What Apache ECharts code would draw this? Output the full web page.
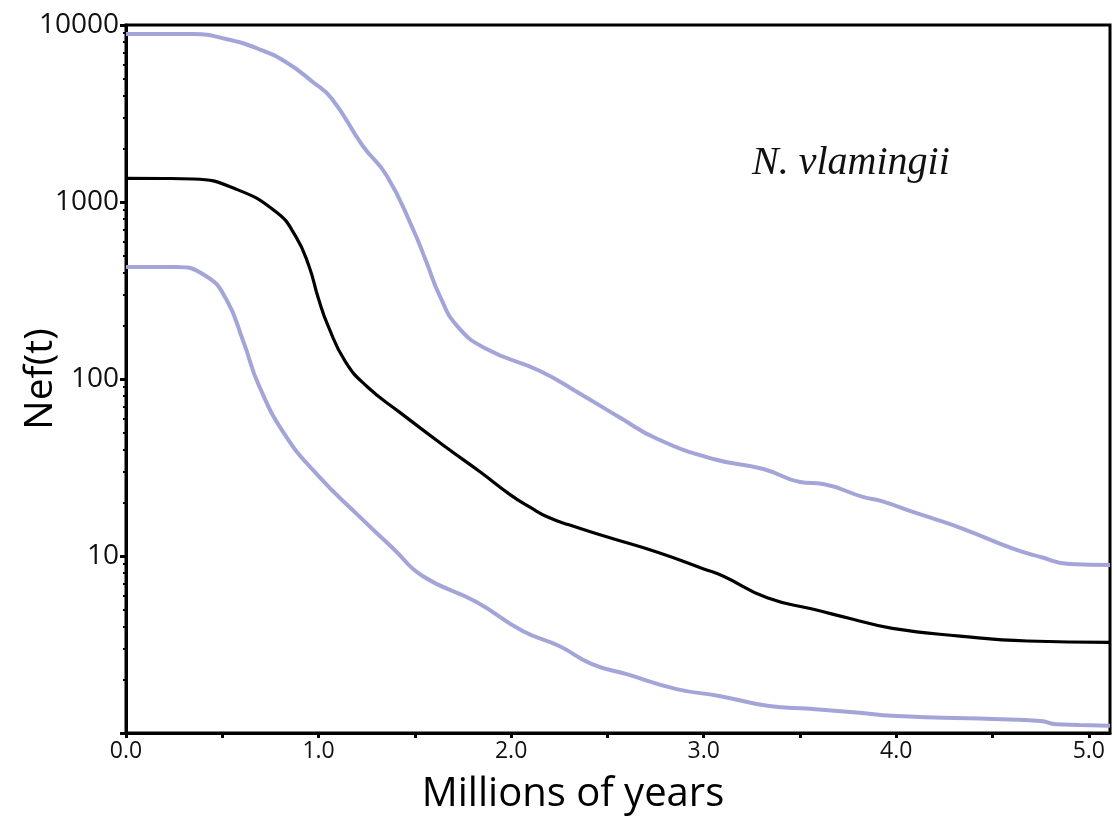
<!DOCTYPE html>
<html>
<head>
<meta charset="utf-8">
<script src="https://cdn.jsdelivr.net/npm/echarts@6/dist/echarts.min.js"></script>
<style>
  html, body { margin: 0; padding: 0; background: #fff; }
  #main { width: 1117px; height: 818px; }
</style>
</head>
<body>
<div id="main"></div>
<script>
"use strict";

// median curve (millions of years, Nef)
var medianX = [0, 0.2, 0.35, 0.57, 0.78, 0.88, 0.95, 1.0, 1.05, 1.14, 1.25, 1.42, 1.66, 1.84, 2.0, 2.1, 2.19, 2.3, 2.5, 2.76, 3.0, 3.1, 3.33, 3.57, 3.77, 3.98, 4.33, 4.68, 5.11];
var medianY = [1360, 1358, 1349, 1184, 878, 643, 435, 283, 199, 125, 91, 65, 41.3, 29.8, 22.0, 18.8, 16.6, 15.0, 12.8, 10.5, 8.45, 7.71, 5.8, 5.0, 4.41, 3.9, 3.53, 3.31, 3.25];

// upper bound
var upperX = [0, 0.2, 0.35, 0.52, 0.69, 0.83, 0.97, 1.07, 1.23, 1.355, 1.49, 1.56, 1.63, 1.72, 1.87, 2.15, 2.36, 2.56, 2.76, 3.05, 3.31, 3.5, 3.62, 3.83, 3.92, 4.09, 4.17, 4.35, 4.61, 4.75, 4.9, 5.11];
var upperY = [8890, 8890, 8890, 8340, 7310, 6180, 4765, 3820, 2072, 1403, 704, 458, 294, 199, 148, 111, 82.3, 61, 45.8, 35.3, 31.0, 26.2, 25.5, 21.5, 20.5, 17.7, 16.6, 14.2, 10.96, 9.87, 9.01, 8.9];

// lower bound
var lowerX = [0, 0.2, 0.26, 0.415, 0.52, 0.61, 0.69, 0.83, 1.0, 1.21, 1.39, 1.54, 1.82, 2.06, 2.25, 2.42, 2.6, 2.86, 3.08, 3.34, 3.55, 3.81, 3.98, 4.24, 4.5, 4.75, 4.83, 4.95, 5.11];
var lowerY = [429, 429, 429, 382, 283, 162, 92, 47.6, 28.3, 16.8, 10.96, 7.71, 5.5, 3.77, 3.1, 2.45, 2.15, 1.77, 1.62, 1.42, 1.37, 1.3, 1.25, 1.22, 1.2, 1.17, 1.12, 1.11, 1.1];

var yTicks = [1, 10, 100, 1000, 10000];

function pairs(xs, ys) {
  return xs.map(function (x, i) { return [x, ys[i]]; });
}

var blue = "#a3a5d8";

var chartDom = document.getElementById("main");
var myChart = echarts.init(chartDom);

var option = {
  backgroundColor: "#fff",
  animation: false,
  grid: {
    left: 126,
    right: 7,
    top: 25,
    bottom: 85,
    containLabel: false,
    outerBoundsMode: "none",
    show: true,
    borderColor: "#000",
    borderWidth: 3,
  },
  xAxis: {
    type: "value",
    min: 0,
    max: 5.11,
    interval: 0.5,
    splitLine: { show: false },
    axisLine: { lineStyle: { color: "#000", width: 3 } },
    axisTick: { length: 5, lineStyle: { color: "#000", width: 3 } },
    axisLabel: {
      color: "#111",
      fontSize: 23,
      fontFamily: "Open Sans",
      margin: 7,
      showMaxLabel: false,
      formatter: function (v) {
        return Math.abs(v - Math.round(v)) < 1e-6 ? v.toFixed(1) : "";
      },
    },
  },
  yAxis: {
    type: "log",
    logBase: 10,
    min: yTicks[0],
    max: yTicks[yTicks.length - 1],
    splitLine: { show: false },
    axisLine: { lineStyle: { color: "#000", width: 3 } },
    axisTick: { length: 6, lineStyle: { color: "#000", width: 3 } },
    minorTick: { show: true, splitNumber: 9, length: 3, lineStyle: { color: "#000", width: 2 } },
    minorSplitLine: { show: false },
    axisLabel: {
      color: "#111",
      fontSize: 28,
      fontFamily: "Open Sans",
      margin: 7,
      formatter: function (v) {
        return v === 1 ? "" : String(Math.round(v));
      },
    },
    name: "Nef(t)",
    nameLocation: "middle",
    nameGap: 66,
    nameMoveOverlap: false,
    nameTextStyle: { color: "#000", fontSize: 39, fontFamily: "Open Sans" },
  },
  graphic: [
    {
      type: "text",
      x: 573,
      y: 795,
      style: {
        text: "Millions of years",
        fill: "#000",
        font: "40px 'Open Sans'",
        textAlign: "center",
        textVerticalAlign: "middle",
      },
    },
    {
      type: "text",
      left: 752,
      top: 143,
      style: { text: "N. vlamingii", fill: "#111", font: "italic 40px 'Liberation Serif'" },
    },
  ],
  series: [
    {
      name: "upper",
      type: "line",
      data: pairs(upperX, upperY),
      smooth: 0.5,
      showSymbol: false,
      lineStyle: { color: blue, width: 4 },
    },
    {
      name: "lower",
      type: "line",
      data: pairs(lowerX, lowerY),
      smooth: 0.5,
      showSymbol: false,
      lineStyle: { color: blue, width: 4 },
    },
    {
      name: "median",
      type: "line",
      data: pairs(medianX, medianY),
      smooth: 0.5,
      showSymbol: false,
      lineStyle: { color: "#000", width: 3.2 },
    },
  ],
};

option && myChart.setOption(option);
</script>
</body>
</html>
